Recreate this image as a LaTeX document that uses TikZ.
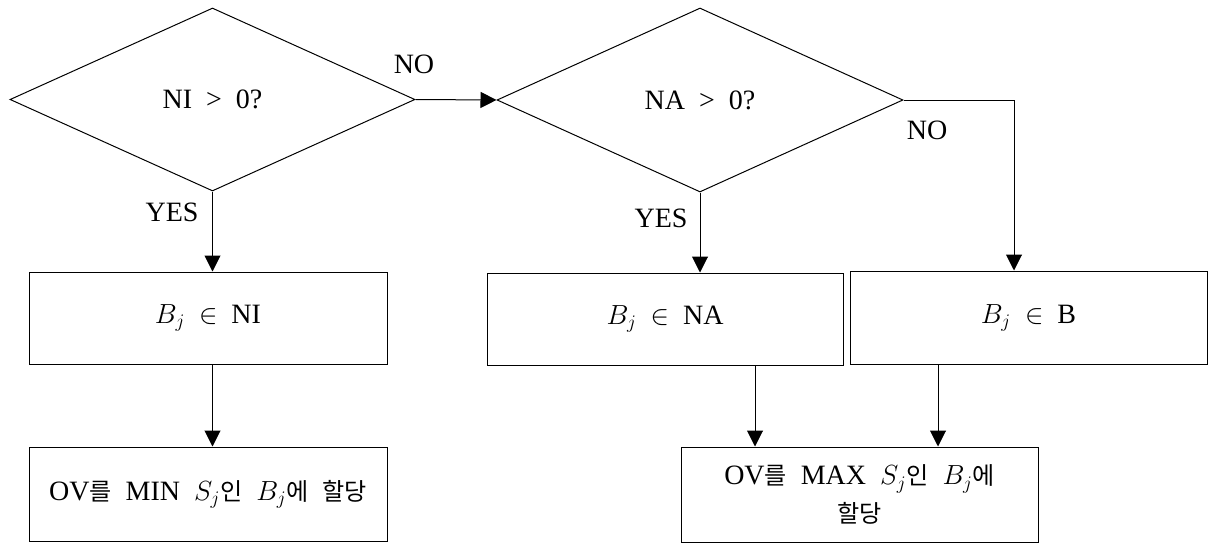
\documentclass[tikz,border=0pt]{standalone}
\usepackage{fontspec}
\setmainfont{Liberation Serif}
\newfontfamily\kr[Scale=0.86]{Noto Sans CJK KR}
\usetikzlibrary{shapes.geometric,arrows.meta}
\begin{document}
\begin{tikzpicture}[x=0.75pt,y=-0.75pt,
  font=\fontsize{21}{28}\selectfont, line width=0.75pt,
  box/.style={draw, inner sep=0pt, align=center},
  dec/.style={draw, diamond, inner sep=0pt},
  lbl/.style={inner sep=0pt},
  arr/.style={-{Triangle[length=12pt,width=12pt]}}]
\useasboundingbox (0,0) rectangle (1218,543);
\newcommand{\gap}{\hspace{0.5em}}
% decisions
\node[dec, minimum width={405*0.75pt}, minimum height={183*0.75pt}] (d1) at (212.5,99.5) {NI\gap>\gap0?};
\node[dec, minimum width={406*0.75pt}, minimum height={184*0.75pt}] (d2) at (700,100) {NA\gap>\gap0?};
% boxes
\node[box, minimum width={358*0.75pt}, minimum height={92*0.75pt}] (b1) at (208,318) {$B_j$\gap$\in$\gap NI};
\node[box, minimum width={356*0.75pt}, minimum height={92*0.75pt}] (b2) at (665,319) {$B_j$\gap$\in$\gap NA};
\node[box, minimum width={357*0.75pt}, minimum height={93*0.75pt}] (b3) at (1028.5,317.5) {$B_j$\gap$\in$\gap B};
\node[box, minimum width={358*0.75pt}, minimum height={94*0.75pt}] (b4) at (208,494) {OV{\kr 를}\gap MIN\gap$S_j${\kr 인}\gap$B_j${\kr 에}\gap{\kr 할당}};
\node[box, minimum width={357*0.75pt}, minimum height={95*0.75pt}] (b5) at (859.5,494.5) {OV{\kr 를}\gap MAX\gap$S_j${\kr 인}\gap$B_j${\kr 에}\\{\kr 할당}};
% labels
\node[lbl] (no1) at (414,64) {NO};
\node[lbl] (yes1) at (172,212) {YES};
\node[lbl] (no2) at (927,130) {NO};
\node[lbl] (yes2) at (661,218) {YES};
% connectors
\coordinate (k3) at (1014,0);
\coordinate (k5a) at (755,0);
\coordinate (k5b) at (938,0);
\draw[arr] (d1.east) -- (d2.west);
\draw[arr] (d1.south) -- (d1.south |- b1.north);
\draw[arr] (d2.south) -- (d2.south |- b2.north);
\draw[arr] (d2.east) -| (k3 |- b3.north);
\draw[arr] (d1.south |- b1.south) -- (d1.south |- b4.north);
\draw[arr] (k5a |- b2.south) -- (k5a |- b5.north);
\draw[arr] (k5b |- b3.south) -- (k5b |- b5.north);
\end{tikzpicture}
\end{document}
